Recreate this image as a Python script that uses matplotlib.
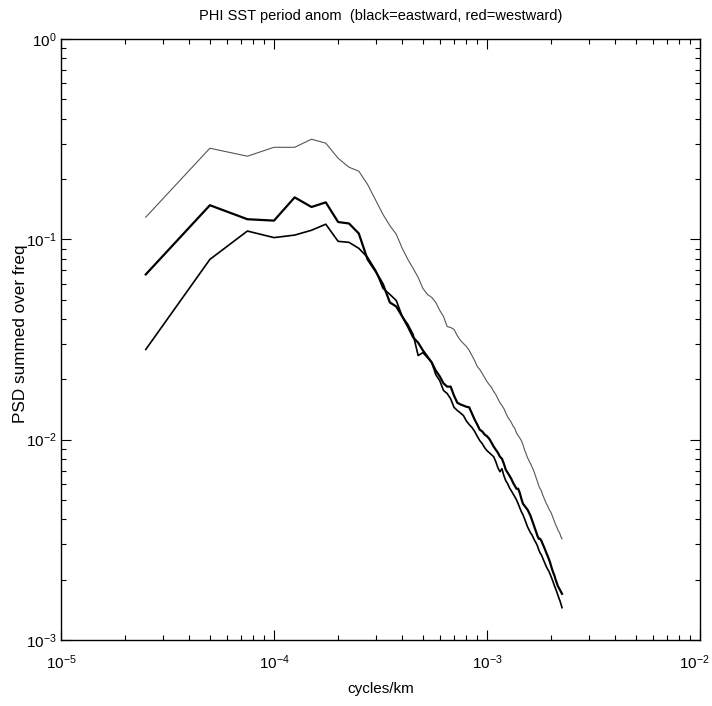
import numpy as np
import matplotlib
matplotlib.use("Agg")
import matplotlib.pyplot as plt
import matplotlib.transforms as mtransforms
from matplotlib.ticker import LogLocator, NullFormatter

plt.rcParams['font.family'] = ['Liberation Sans', 'DejaVu Sans']
plt.rcParams['mathtext.fontset'] = 'custom'
plt.rcParams['mathtext.rm'] = 'Liberation Sans'
plt.rcParams['mathtext.it'] = 'Liberation Sans'

# frequency spacing (cycles/km) and bin index
df = 2.5e-5
k = np.arange(1, 91)
freq = k * df

# westward (drawn grey, upper curve)
psd_west = [
    0.129, 0.285, 0.260, 0.288, 0.288, 0.316, 0.302, 0.254, 0.229, 0.219,
    0.188, 0.157, 0.133, 0.117, 0.106, 0.0902, 0.0794, 0.0716, 0.0646, 0.0569,
    0.0531, 0.0513, 0.0484, 0.0442, 0.0412, 0.0367, 0.0363, 0.0355, 0.0331, 0.0313,
    0.0302, 0.0292, 0.0279, 0.0263, 0.0248, 0.0232, 0.0224, 0.0214, 0.0204, 0.0195,
    0.0188, 0.0182, 0.0174, 0.0168, 0.0160, 0.0153, 0.0148, 0.0143, 0.0136, 0.0130,
    0.0126, 0.0122, 0.0117, 0.0114, 0.0108, 0.0105, 0.0102, 0.00989, 0.00944, 0.00891,
    0.00851, 0.00813, 0.00785, 0.00759, 0.00733, 0.00708, 0.00676, 0.00646, 0.00617, 0.00589,
    0.00569, 0.00556, 0.00531, 0.00513, 0.00495, 0.00479, 0.00468, 0.00452, 0.00442, 0.00432,
    0.00417, 0.00403, 0.00389, 0.00376, 0.00367, 0.00355, 0.00347, 0.00339, 0.00327, 0.00320,
]

# eastward (black, middle curve)
psd_east = [
    0.0668, 0.148, 0.126, 0.124, 0.162, 0.145, 0.153, 0.122, 0.120, 0.107,
    0.0794, 0.0692, 0.0596, 0.0484, 0.0462, 0.0412, 0.0367, 0.0324, 0.0305, 0.0279,
    0.0260, 0.0243, 0.0221, 0.0207, 0.0191, 0.0184, 0.0184, 0.0166, 0.0153, 0.0150,
    0.0148, 0.0146, 0.0145, 0.0135, 0.0126, 0.0119, 0.0112, 0.0110, 0.0106, 0.0104,
    0.0101, 0.00966, 0.00923, 0.00891, 0.00861, 0.00822, 0.00804, 0.00759, 0.00708, 0.00684,
    0.00661, 0.00638, 0.00610, 0.00589, 0.00569, 0.00569, 0.00543, 0.00507, 0.00479, 0.00468,
    0.00457, 0.00447, 0.00432, 0.00417, 0.00398, 0.00380, 0.00363, 0.00347, 0.00331, 0.00320,
    0.00320, 0.00313, 0.00302, 0.00292, 0.00282, 0.00272, 0.00263, 0.00254, 0.00245, 0.00234,
    0.00224, 0.00216, 0.00209, 0.00200, 0.00193, 0.00186, 0.00182, 0.00178, 0.00174, 0.00170,
]

# second black curve (lower)
psd_east2 = [
    0.0282, 0.0794, 0.110, 0.102, 0.105, 0.111, 0.119, 0.0977, 0.0966, 0.0902,
    0.0813, 0.0700, 0.0569, 0.0531, 0.0495, 0.0412, 0.0376, 0.0335, 0.0263, 0.0272,
    0.0257, 0.0243, 0.0211, 0.0197, 0.0176, 0.0170, 0.0160, 0.0145, 0.0140, 0.0136,
    0.0132, 0.0124, 0.0119, 0.0115, 0.0110, 0.0104, 0.00989, 0.00955, 0.00912, 0.00881,
    0.00861, 0.00841, 0.00822, 0.00776, 0.00724, 0.00692, 0.00716, 0.00661, 0.00624, 0.00603,
    0.00575, 0.00556, 0.00537, 0.00519, 0.00501, 0.00479, 0.00457, 0.00437, 0.00422, 0.00403,
    0.00385, 0.00367, 0.00355, 0.00343, 0.00335, 0.00324, 0.00313, 0.00305, 0.00295, 0.00282,
    0.00272, 0.00266, 0.00257, 0.00248, 0.00240, 0.00232, 0.00226, 0.00221, 0.00214, 0.00207,
    0.00200, 0.00193, 0.00186, 0.00180, 0.00174, 0.00168, 0.00162, 0.00157, 0.00151, 0.00145,
]

fig = plt.figure(figsize=(7.12, 7.06), dpi=100)
ax = fig.add_axes([61/712, 1-640/706, (700-61)/712, (640-39)/706])

ax.loglog(freq, psd_west, color='#555555', lw=0.8)
ax.loglog(freq, psd_east, color='black', lw=1.6)
ax.loglog(freq, psd_east2, color='black', lw=1.2)

ax.set_xlim(1e-5, 1e-2)
ax.set_ylim(1e-3, 1e0)
ax.xaxis.set_major_locator(LogLocator(base=10, numticks=10))
ax.yaxis.set_major_locator(LogLocator(base=10, numticks=10))
ax.xaxis.set_minor_locator(LogLocator(base=10, subs=np.arange(2, 10), numticks=20))
ax.yaxis.set_minor_locator(LogLocator(base=10, subs=np.arange(2, 10), numticks=20))
ax.xaxis.set_minor_formatter(NullFormatter())
ax.yaxis.set_minor_formatter(NullFormatter())
ax.tick_params(which='both', direction='in', top=True, right=True, labelsize=11, width=0.8)
ax.tick_params(which='major', length=7)
ax.tick_params(which='minor', length=3.5)
ax.tick_params(axis='x', which='major', pad=10)
ax.tick_params(axis='y', which='major', pad=3)
for s in ax.spines.values():
    s.set_linewidth(1.0)

ax.set_title('PHI SST period anom  (black=eastward, red=westward)', fontsize=10.5, pad=14)
ax.set_xlabel('cycles/km', fontsize=11, labelpad=7)
ax.set_ylabel('PSD summed over freq', fontsize=12.3)
ax.yaxis.set_label_coords(-0.052, 0.51)

fig.canvas.draw()
labels = ax.get_xticklabels()
offset = mtransforms.ScaledTranslation(-4/72, 0, fig.dpi_scale_trans)
for lab in labels:
    if lab.get_text() and lab.get_position()[0] >= 9e-3:
        lab.set_transform(lab.get_transform() + offset)

fig.savefig('out.png', dpi=100, facecolor='white')
